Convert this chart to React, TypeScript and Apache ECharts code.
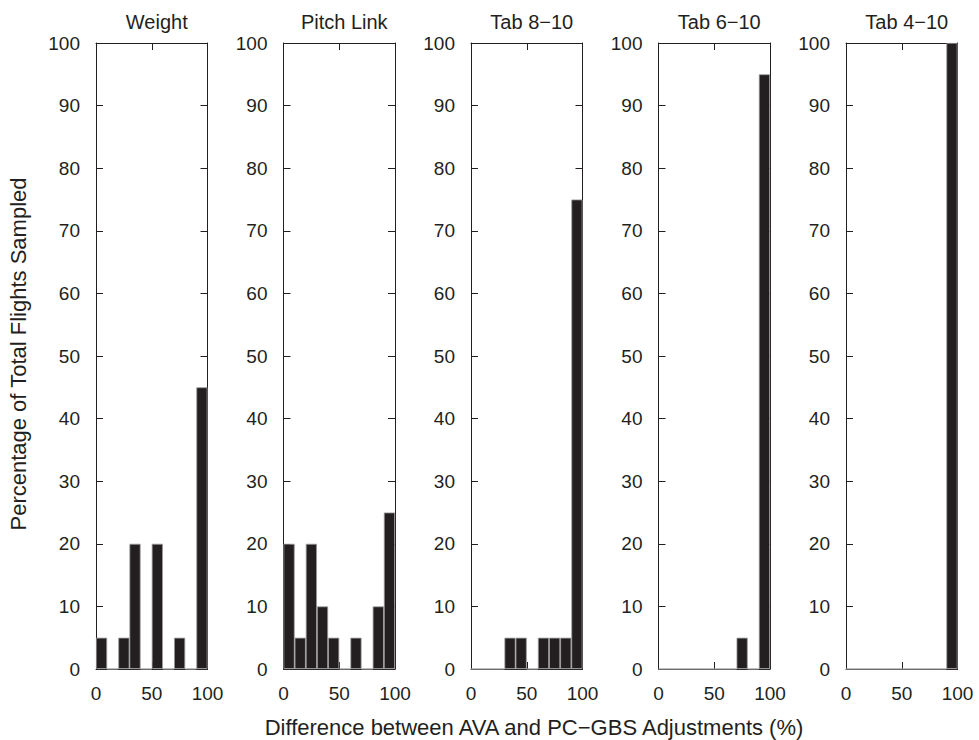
import React, { useEffect, useRef } from "react";
import * as echarts from "echarts";

const panelTitles = ["Weight", "Pitch Link", "Tab 8\u221210", "Tab 6\u221210", "Tab 4\u221210"];
const bins = ["0-10", "10-20", "20-30", "30-40", "40-50", "50-60", "60-70", "70-80", "80-90", "90-100"];
const weight = [5, 0, 5, 20, 0, 20, 0, 5, 0, 45];
const pitchLink = [20, 5, 20, 10, 5, 0, 5, 0, 10, 25];
const tab810 = [0, 0, 0, 5, 5, 0, 5, 5, 5, 75];
const tab610 = [0, 0, 0, 0, 0, 0, 0, 5, 0, 95];
const tab410 = [0, 0, 0, 0, 0, 0, 0, 0, 0, 100];
const seriesData = [weight, pitchLink, tab810, tab610, tab410];
const yLabel = "Percentage of Total Flights Sampled";
const xLabel = "Difference between AVA and PC\u2212GBS Adjustments (%)";

const INK = "#231f20";
const FONT = "Liberation Sans, Arial, Helvetica, sans-serif";
const FS = 19;

export default function App() {
  const ref = useRef<HTMLDivElement>(null);
  useEffect(() => {
    if (!ref.current) return;
    const chart = echarts.init(ref.current, undefined, { renderer: "svg" });
    const left0 = 96;
    const step = 187.5;
    const w = 111.5;
    const top = 43;
    const h = 626;
    const grids: any[] = [];
    const xAxes: any[] = [];
    const yAxes: any[] = [];
    const series: any[] = [];
    const titles: any[] = [];
    const line = { show: true, onZero: false, lineStyle: { color: INK, width: 1 } };
    const tick = { show: true, inside: true, length: 7, lineStyle: { color: INK, width: 1 } };
    seriesData.forEach((d, i) => {
      const left = left0 + i * step;
      grids.push({ left, top, width: w, height: h, containLabel: false });
      xAxes.push({
        type: "value", gridIndex: i, min: 0, max: 100, interval: 50, position: "bottom",
        axisLine: line, axisTick: tick,
        axisLabel: { color: INK, fontSize: FS, fontFamily: FONT, margin: 15 },
        splitLine: { show: false },
      });
      xAxes.push({
        type: "value", gridIndex: i, min: 0, max: 100, interval: 50, position: "top",
        axisLine: line, axisTick: tick,
        axisLabel: { show: false }, splitLine: { show: false },
      });
      xAxes.push({ type: "category", gridIndex: i, data: bins, show: false, boundaryGap: true });
      yAxes.push({
        type: "value", gridIndex: i, min: 0, max: 100, interval: 10, position: "left",
        axisLine: line, axisTick: tick,
        axisLabel: { color: INK, fontSize: FS, fontFamily: FONT, margin: 16 },
        splitLine: { show: false },
      });
      yAxes.push({
        type: "value", gridIndex: i, min: 0, max: 100, interval: 10, position: "right",
        axisLine: line, axisTick: tick,
        axisLabel: { show: false }, splitLine: { show: false },
      });
      series.push({
        type: "bar", xAxisIndex: i * 3 + 2, yAxisIndex: i * 2, data: d,
        barCategoryGap: "0%", barGap: "0%",
        itemStyle: { color: INK, borderColor: "#9a9a9a", borderWidth: 0.8 },
      });
      titles.push({
        text: panelTitles[i], left: left + w / 2, top: 7, textAlign: "center",
        textStyle: { color: INK, fontSize: 20, fontWeight: "normal", fontFamily: FONT },
      });
    });
    chart.setOption({
      animation: false,
      backgroundColor: "#ffffff",
      title: titles,
      grid: grids,
      xAxis: xAxes,
      yAxis: yAxes,
      series,
      graphic: [
        {
          type: "text", x: 18, y: 354, rotation: Math.PI / 2,
          style: { text: yLabel, fill: INK, fontSize: 22, fontFamily: FONT, align: "center", verticalAlign: "middle" },
        },
        {
          type: "text", x: 534, y: 727,
          style: { text: xLabel, fill: INK, fontSize: 22, fontFamily: FONT, align: "center", verticalAlign: "middle" },
        },
      ],
    });
    return () => chart.dispose();
  }, []);
  return <div ref={ref} style={{ width: 979, height: 740, position: "absolute", left: 0, top: 0 }} />;
}
